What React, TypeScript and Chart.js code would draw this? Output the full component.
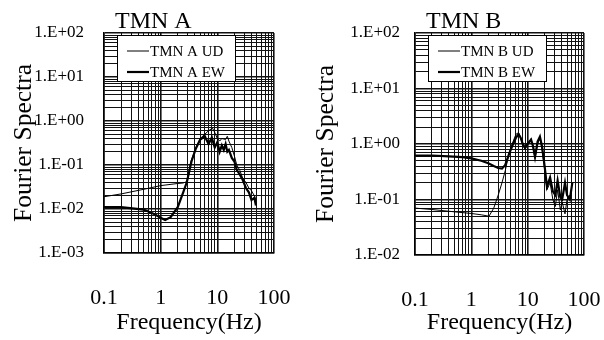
import React, { useEffect, useRef } from 'react';
import { Chart, registerables } from 'chart.js';

Chart.register(...registerables);

const FONT = "'Liberation Serif', 'Times New Roman', serif";

// Tick labels
const X_TICK_LABELS = ['0.1', '1', '10', '100'];
const Y_TICK_LABELS_A = ['1.E-03', '1.E-02', '1.E-01', '1.E+00', '1.E+01', '1.E+02'];
const Y_TICK_LABELS_B = ['1.E-02', '1.E-01', '1.E+00', '1.E+01', '1.E+02'];

// Chart A — TMN A
const A_UD_FREQ = [0.1, 0.2, 0.5, 1, 2, 2.5, 2.9, 3.4, 4.2, 5, 6, 7, 8.2, 9, 10, 11, 12, 14, 15, 16, 18, 20, 22, 25, 28, 32, 36, 40, 45, 48];
const A_UD_VAL = [0.019, 0.022, 0.028, 0.034, 0.038, 0.039, 0.042, 0.12, 0.25, 0.4, 0.5, 0.6, 0.69, 0.55, 0.4, 0.35, 0.4, 0.38, 0.45, 0.35, 0.25, 0.16, 0.1, 0.075, 0.05, 0.04, 0.03, 0.026, 0.02, 0.016];
const A_EW_FREQ = [0.1, 0.2, 0.5, 0.8, 1, 1.2, 1.5, 2, 2.5, 2.9, 3.5, 4.2, 5, 6, 7, 8, 9, 10, 11, 12, 13, 14, 15, 16, 18, 20, 22, 25, 28, 32, 36, 40, 45, 48];
const A_EW_VAL = [0.011, 0.011, 0.0097, 0.0075, 0.0063, 0.0056, 0.0065, 0.011, 0.024, 0.041, 0.12, 0.24, 0.38, 0.45, 0.3, 0.42, 0.25, 0.33, 0.2, 0.28, 0.22, 0.3, 0.2, 0.22, 0.145, 0.12, 0.078, 0.06, 0.046, 0.03, 0.024, 0.016, 0.018, 0.012];

// Chart B — TMN B
const B_UD_FREQ = [0.1, 0.2, 0.5, 1, 1.5, 2.06, 2.5, 3, 3.5, 4, 4.7, 5.5, 6.2, 6.9, 7.5, 8.2, 9, 10, 11.5, 12.5, 13.5, 15, 16.5, 18, 20, 22, 25, 28, 31, 34, 38, 41, 46, 50, 56];
const B_UD_VAL = [0.07, 0.066, 0.06, 0.056, 0.053, 0.05, 0.07, 0.12, 0.2, 0.33, 0.7, 1.1, 1.5, 1.6, 1.3, 0.95, 0.8, 1.0, 1.25, 0.85, 0.55, 1.0, 1.3, 0.8, 0.35, 0.15, 0.2, 0.1, 0.075, 0.15, 0.065, 0.09, 0.055, 0.1, 0.12];
const B_EW_FREQ = [0.1, 0.2, 0.4, 0.7, 1, 1.5, 2, 2.5, 3, 3.5, 4, 4.7, 5.5, 6.2, 6.9, 7.5, 8.2, 9, 10, 11.5, 12.5, 13.5, 15, 16.5, 18, 20, 22, 25, 28, 31, 34, 38, 41, 46, 50, 56, 62];
const B_EW_VAL = [0.62, 0.62, 0.6, 0.58, 0.55, 0.5, 0.45, 0.4, 0.37, 0.36, 0.42, 0.67, 1.0, 1.3, 1.5, 1.3, 1.0, 0.85, 1.0, 1.2, 0.9, 0.58, 1.1, 1.35, 0.9, 0.4, 0.17, 0.25, 0.14, 0.12, 0.22, 0.11, 0.1, 0.2, 0.12, 0.1, 0.2];

const zip = (xs: number[], ys: number[]) => xs.map((x, i) => ({ x, y: ys[i] }));

const isDecade = (v: number) => {
  const l = Math.log10(v);
  return Math.abs(l - Math.round(l)) < 1e-9;
};

const logGridTicks = (minExp: number, maxExp: number) => {
  const out: { value: number; major: boolean }[] = [];
  for (let e = minExp; e < maxExp; e++) {
    for (let m = 1; m <= 9; m++) {
      const v = m * Math.pow(10, e);
      out.push({ value: v, major: m === 1 });
    }
  }
  out.push({ value: Math.pow(10, maxExp), major: true });
  return out;
};

type Spec = {
  title: string;
  udLabel: string;
  ewLabel: string;
  udF: number[];
  udV: number[];
  ewF: number[];
  ewV: number[];
  yMinExp: number;
  yLabels: string[];
  yAxisWidth: number;
  yTickPad: number;
  padRight: number;
  xAxisHeight: number;
};

const overlayPlugin = (spec: Spec) => ({
  id: 'overlay',
  afterDraw(chart: any) {
    const { ctx, chartArea } = chart;
    ctx.save();
    // title
    ctx.fillStyle = '#000';
    ctx.font = `24px ${FONT}`;
    ctx.textAlign = 'left';
    ctx.textBaseline = 'alphabetic';
    ctx.fillText(spec.title, chartArea.left + 11, 28);
    // legend
    const bx = chartArea.left + 13;
    const by = chartArea.top + 2;
    const bw = 118;
    const bh = 46;
    ctx.fillStyle = '#fff';
    ctx.fillRect(bx, by, bw, bh);
    ctx.strokeStyle = '#000';
    ctx.lineWidth = 1;
    ctx.strokeRect(bx + 0.5, by + 0.5, bw, bh);
    const ds = chart.data.datasets;
    const rows = [16, 37];
    ds.forEach((d: any, i: number) => {
      const y = by + rows[i];
      ctx.strokeStyle = '#000';
      ctx.lineWidth = d.borderWidth;
      ctx.beginPath();
      ctx.moveTo(bx + 10, y);
      ctx.lineTo(bx + 32, y);
      ctx.stroke();
      ctx.fillStyle = '#000';
      ctx.font = `15px ${FONT}`;
      ctx.textBaseline = 'middle';
      ctx.fillText(d.label, bx + 33, y + 1);
    });
    ctx.restore();
  },
});

function makeConfig(spec: Spec): any {
  return {
    type: 'line',
    data: {
      datasets: [
        { label: spec.udLabel, data: zip(spec.udF, spec.udV), borderColor: '#000', borderWidth: 1, pointRadius: 0, tension: 0, fill: false },
        { label: spec.ewLabel, data: zip(spec.ewF, spec.ewV), borderColor: '#000', borderWidth: 2.2, pointRadius: 0, tension: 0, fill: false },
      ],
    },
    options: {
      responsive: false,
      animation: false,
      events: [],
      layout: { padding: { top: 33, right: spec.padRight, bottom: 0, left: 0 } },
      plugins: { legend: { display: false }, title: { display: false }, tooltip: { enabled: false } },
      scales: {
        x: {
          type: 'logarithmic',
          min: 0.1,
          max: 100,
          afterBuildTicks: (s: any) => { s.ticks = logGridTicks(-1, 2); },
          afterFit: (s: any) => { s.height = spec.xAxisHeight; s.paddingLeft = 0; s.paddingRight = 0; },
          ticks: {
            autoSkip: false,
            maxRotation: 0,
            minRotation: 0,
            padding: 32,
            color: '#000',
            font: { family: FONT, size: 22 },
            callback: (v: number) => (isDecade(v) ? X_TICK_LABELS[Math.round(Math.log10(v)) + 1] : ''),
          },
          grid: {
            drawTicks: false,
            color: '#111',
            lineWidth: (c: any) => (c.tick && c.tick.major ? 1.6 : 1),
          },
          border: { display: true, color: '#000', width: 1.5 },
          title: { display: true, text: 'Frequency(Hz)', color: '#000', font: { family: FONT, size: 24 }, padding: { top: 0, bottom: 3 } },
        },
        y: {
          type: 'logarithmic',
          min: Math.pow(10, spec.yMinExp),
          max: 100,
          afterBuildTicks: (s: any) => { s.ticks = logGridTicks(spec.yMinExp, 2); },
          afterFit: (s: any) => { s.width = spec.yAxisWidth; s.paddingTop = 0; s.paddingBottom = 0; },
          ticks: {
            autoSkip: false,
            padding: spec.yTickPad,
            color: '#000',
            font: { family: FONT, size: 17 },
            callback: (v: number) => (isDecade(v) ? spec.yLabels[Math.round(Math.log10(v)) - spec.yMinExp] : ''),
          },
          grid: {
            drawTicks: false,
            color: '#111',
            lineWidth: (c: any) => (c.tick && c.tick.major ? 1.6 : 1),
          },
          border: { display: true, color: '#000', width: 1.5 },
          title: { display: true, text: 'Fourier Spectra', color: '#000', font: { family: FONT, size: 25.5 }, padding: { top: 9, bottom: 0 } },
        },
      },
    },
    plugins: [overlayPlugin(spec)],
  };
}

const SPEC_A: Spec = {
  title: 'TMN A',
  udLabel: 'TMN A UD',
  ewLabel: 'TMN A EW',
  udF: A_UD_FREQ,
  udV: A_UD_VAL,
  ewF: A_EW_FREQ,
  ewV: A_EW_VAL,
  yMinExp: -3,
  yLabels: Y_TICK_LABELS_A,
  yAxisWidth: 104,
  yTickPad: 20,
  padRight: 28,
  xAxisHeight: 87,
};

const SPEC_B: Spec = {
  title: 'TMN B',
  udLabel: 'TMN B UD',
  ewLabel: 'TMN B EW',
  udF: B_UD_FREQ,
  udV: B_UD_VAL,
  ewF: B_EW_FREQ,
  ewV: B_EW_VAL,
  yMinExp: -2,
  yLabels: Y_TICK_LABELS_B,
  yAxisWidth: 113,
  yTickPad: 15,
  padRight: 20,
  xAxisHeight: 85,
};

function Panel({ spec }: { spec: Spec }) {
  const ref = useRef<HTMLCanvasElement | null>(null);
  useEffect(() => {
    if (!ref.current) return;
    const chart = new Chart(ref.current, makeConfig(spec));
    return () => chart.destroy();
  }, [spec]);
  return <canvas ref={ref} width={302} height={340} style={{ width: 302, height: 340, display: 'block' }} />;
}

export default function App() {
  return (
    <div style={{ position: 'absolute', left: 0, top: 0, width: 604, height: 340, display: 'flex', background: '#fff' }}>
      <Panel spec={SPEC_A} />
      <Panel spec={SPEC_B} />
    </div>
  );
}
